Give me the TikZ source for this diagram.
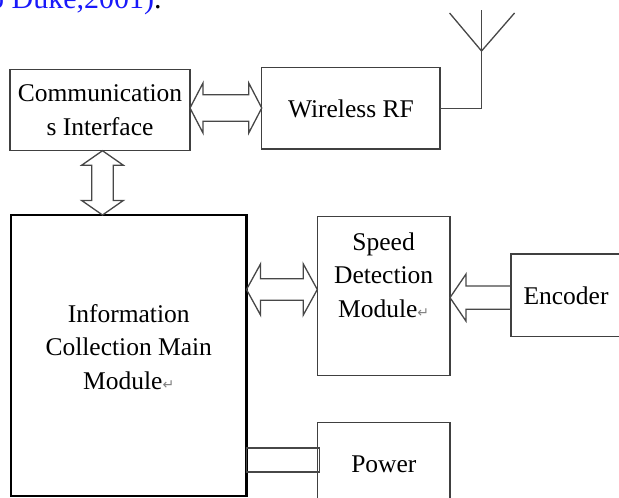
\documentclass[tikz,border=0pt]{standalone}
\usepackage{fontspec}
\setmainfont{Liberation Serif}
\newfontfamily\retfont{DejaVu Sans}
\usetikzlibrary{calc}

\definecolor{citeblue}{RGB}{25,25,250}
\newcommand{\boxfont}{\fontsize{25.5}{33.5}\selectfont}
\newcommand{\retmark}{{\retfont\fontsize{14}{14}\selectfont\textcolor{gray}{↵}}}

% hollow block arrows: from, to, head half width, shaft half width, head length
\newcommand{\hdblarrow}[5]{%
  \draw[fat] let \p1=(#1), \p2=(#2) in
    (\x1,\y1) -- (\x1+#5pt,\y1+#3pt) -- (\x1+#5pt,\y1+#4pt) -- (\x2-#5pt,\y1+#4pt)
    -- (\x2-#5pt,\y1+#3pt) -- (\x2,\y1) -- (\x2-#5pt,\y1-#3pt) -- (\x2-#5pt,\y1-#4pt)
    -- (\x1+#5pt,\y1-#4pt) -- (\x1+#5pt,\y1-#3pt) -- cycle;}
\newcommand{\vdblarrow}[5]{%
  \draw[fat] let \p1=(#1), \p2=(#2) in
    (\x1,\y1) -- (\x1+#3pt,\y1-#5pt) -- (\x1+#4pt,\y1-#5pt) -- (\x1+#4pt,\y2+#5pt)
    -- (\x1+#3pt,\y2+#5pt) -- (\x1,\y2) -- (\x1-#3pt,\y2+#5pt) -- (\x1-#4pt,\y2+#5pt)
    -- (\x1-#4pt,\y1-#5pt) -- (\x1-#3pt,\y1-#5pt) -- cycle;}

\tikzset{
  box/.style={draw=black!75,line width=1.2pt,inner sep=0pt,outer sep=0pt,align=center,font=\boxfont},
  mainbox/.style={box,draw=black,line width=2.4pt},
  lbl/.style={align=center,font=\boxfont,inner sep=0pt},
  fat/.style={draw=black!72,line width=1.3pt,line join=miter},
}

\begin{document}
\begin{tikzpicture}[x=1pt,y=-1pt]
\useasboundingbox (0,0) rectangle (619,498);

\node[anchor=base west,font=\fontsize{30}{36}\selectfont,text=citeblue,inner sep=0pt] (cite) at (-11,8) {o Duke,2001)\textcolor{black}{.}};

% boxes
\node[box,minimum width=180,minimum height=81.4] (comm) at (100,110) {Communication\\s Interface};
\node[box,minimum width=178.3,minimum height=81.3] (rf) at (350.9,108.4) {Wireless RF};
\node[mainbox,minimum width=235.5,minimum height=281] (main) at (128.75,355.5) {};
\node[lbl] (maintxt) at ($(main.north)+(0,132)$) {Information\\Collection Main\\Module\retmark};
\node[box,minimum width=132.7,minimum height=159] (speed) at (383.65,296.2) {};
\node[lbl] (speedtxt) at ($(speed.north)+(0,58.5)$) {Speed\\Detection\\Module\retmark};
\node[box,minimum width=110,minimum height=82.7] (enc) at (566,295.4) {Encoder};
\node[box,minimum width=132.3,minimum height=82.3] (power) at (383.85,463.9) {Power};

% antenna
\coordinate (antfoot) at ($(rf.east)+(41.5,0)$);
\coordinate (anttop) at (antfoot |- 0,10);
\coordinate (antv) at (antfoot |- 0,51);
\draw[fat] (rf.east) -- (antfoot) -- (anttop);
\draw[fat] ($(anttop)+(-32,3)$) -- (antv) -- ($(anttop)+(33,3)$);

% links
\hdblarrow{$(comm.east)+(0,-2)$}{rf.west}{25}{13.3}{13}
\vdblarrow{$(comm.south)+(2.5,0)$}{main.north}{20.8}{10.8}{14.5}
\hdblarrow{$(main.east)+(0,-66)$}{speed.west}{25.5}{10.8}{14}
\draw[fat] let \p1=($(enc.west)+(0,2.2)$), \p2=(speed.east) in
  (\x1,\y1+11.7pt) -- (\x2+16pt,\y1+11.7pt) -- (\x2+16pt,\y1+23.5pt) -- (\x2,\y1)
  -- (\x2+16pt,\y1-23.5pt) -- (\x2+16pt,\y1-11.7pt) -- (\x1,\y1-11.7pt);
\draw[fat] let \p1=(main.east), \p2=(power.west) in
  (\x1,\y2+16pt) rectangle (\x2+1.5pt,\y2-8pt);
\end{tikzpicture}
\end{document}
